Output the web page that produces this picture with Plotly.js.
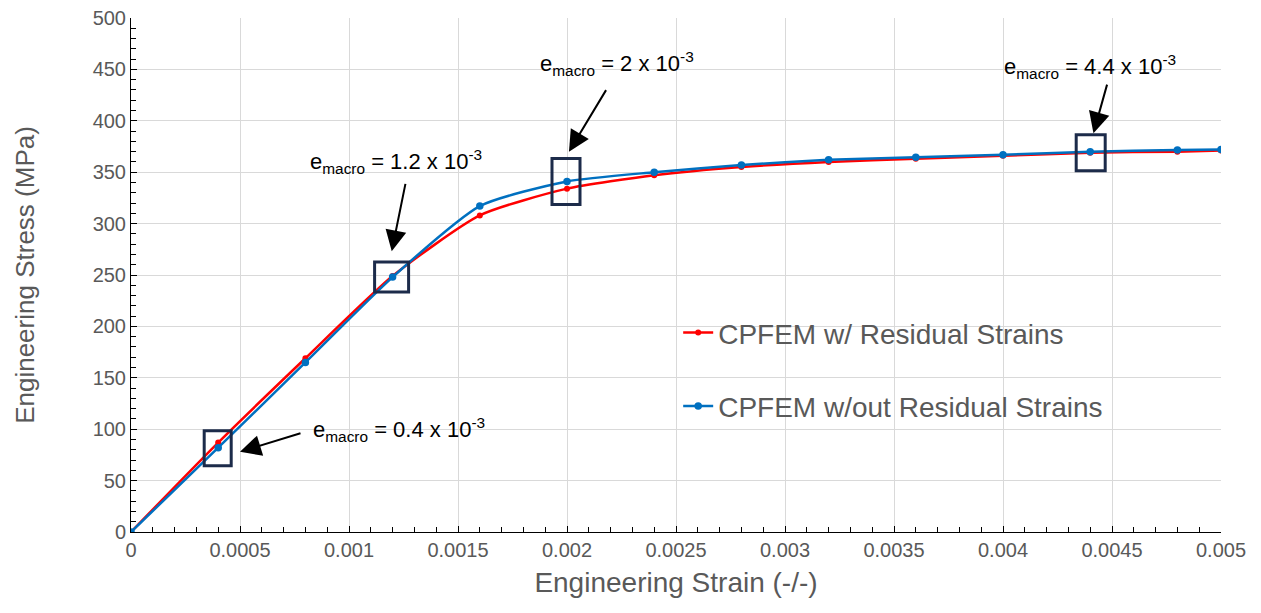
<!DOCTYPE html>
<html>
<head>
<meta charset="utf-8">
<script src="https://cdn.plot.ly/plotly-3.0.1.min.js"></script>
<style>
  html, body { margin: 0; padding: 0; background: #ffffff; }
  #chart { width: 1261px; height: 613px; }
</style>
</head>
<body>
<div id="chart"></div>
<script>
// ---- Data ----
const strain = [0, 0.0004, 0.0008, 0.0012, 0.0016, 0.002, 0.0024, 0.0028, 0.0032, 0.0036, 0.004, 0.0044, 0.0048, 0.005];
const stressWithResidual = [0, 87, 169, 249, 308, 334, 347, 355, 360, 363, 366, 369, 370, 371];
const stressWithoutResidual = [0, 82, 165, 248, 317, 341, 350, 357, 362, 364.5, 367, 370, 371.5, 372];

const seriesNames = ["CPFEM w/ Residual Strains", "CPFEM w/out Residual Strains"];
const xTickVals = [0, 0.0005, 0.001, 0.0015, 0.002, 0.0025, 0.003, 0.0035, 0.004, 0.0045, 0.005];
const xTickText = ["0", "0.0005", "0.001", "0.0015", "0.002", "0.0025", "0.003", "0.0035", "0.004", "0.0045", "0.005"];
const calloutLabels = [
  "e<sub>macro</sub> = 0.4 x 10<sup>-3</sup>",
  "e<sub>macro</sub> = 1.2 x 10<sup>-3</sup>",
  "e<sub>macro</sub> = 2 x 10<sup>-3</sup>",
  "e<sub>macro</sub> = 4.4 x 10<sup>-3</sup>"
];
// indices of highlighted points in the strain array
const calloutIdx = [1, 3, 5, 11];

// ---- Styles ----
const RED = "#ff0000";
const BLUE = "#0070c0";
const BOX = "#1c2b4a";
const GREY_TXT = "#595959";
const FONT = "Liberation Sans, Arial, sans-serif";

const traces = [
  {
    x: strain, y: stressWithResidual, name: seriesNames[0],
    type: "scatter", mode: "lines+markers", legendgroup: "a",
    line: { color: RED, width: 2.5, shape: "spline", smoothing: 0.6 },
    marker: { color: RED, size: 6 }
  },
  {
    x: strain, y: stressWithoutResidual, name: seriesNames[1],
    type: "scatter", mode: "lines+markers", legendgroup: "b",
    line: { color: BLUE, width: 2.5, shape: "spline", smoothing: 0.6 },
    marker: { color: BLUE, size: 7.5 }
  }
];

// Callout boxes (pixel-sized, anchored on data points)
const boxSizes = [
  { l: -14, r: 13, b: -18, t: 17 },
  { l: -18, r: 16, b: -15, t: 15 },
  { l: -15, r: 13, b: -23, t: 23 },
  { l: -14, r: 15, b: -19, t: 17 }
];
const shapes = calloutIdx.map((k, i) => ({
  type: "rect", xref: "x", yref: "y",
  xsizemode: "pixel", ysizemode: "pixel",
  xanchor: strain[k], yanchor: stressWithoutResidual[k],
  x0: boxSizes[i].l, x1: boxSizes[i].r, y0: boxSizes[i].b, y1: boxSizes[i].t,
  line: { color: BOX, width: 3 }, fillcolor: "rgba(0,0,0,0)", layer: "above"
}));

// Arrow heads (data coords) and tails (pixel offsets), text positions
const arrowHeads = [
  { x: 0.0005, y: 78, ax: 62, ay: -19 },
  { x: 0.001196, y: 273, ax: 14, ay: -69 },
  { x: 0.002009, y: 370, ax: 38, ay: -63 },
  { x: 0.004415, y: 388, ax: 14, ay: -50 }
];
const textPos = [
  { x: 0.000825, y: 100 },
  { x: 0.000812, y: 360 },
  { x: 0.001866, y: 456 },
  { x: 0.003995, y: 453 }
];

const annotations = [];
arrowHeads.forEach(a => annotations.push({
  x: a.x, y: a.y, xref: "x", yref: "y", ax: a.ax, ay: a.ay,
  text: "", showarrow: true,
  arrowhead: 2, arrowsize: 2.1, arrowwidth: 2, arrowcolor: "#000000",
  standoff: 0, startstandoff: 0
}));
textPos.forEach((p, i) => annotations.push({
  x: p.x, y: p.y, xref: "x", yref: "y", xanchor: "left", yanchor: "middle",
  text: calloutLabels[i], showarrow: false,
  font: { family: FONT, size: 22, color: "#000000" }
}));

const layout = {
  width: 1261, height: 613,
  margin: { l: 131, r: 40, t: 18, b: 81 },
  paper_bgcolor: "#ffffff", plot_bgcolor: "#ffffff",
  font: { family: FONT, color: GREY_TXT },
  showlegend: true,
  legend: {
    x: 0.502, y: 0.436, xanchor: "left", yanchor: "top",
    bgcolor: "rgba(0,0,0,0)", traceorder: "grouped", tracegroupgap: 34,
    itemwidth: 30,
    font: { family: FONT, size: 28, color: GREY_TXT }
  },
  xaxis: {
    range: [0, 0.005], tickmode: "array", tickvals: xTickVals, ticktext: xTickText,
    showgrid: true, gridcolor: "#d9d9d9", gridwidth: 1, zeroline: false,
    showline: true, linecolor: "#000000", linewidth: 1,
    ticks: "inside", ticklen: 6, tickcolor: "#000000",
    minor: { dtick: 0.0001, tick0: 0, ticks: "inside", ticklen: 5, tickcolor: "#000000", showgrid: false },
    tickfont: { family: FONT, size: 20, color: GREY_TXT },
    title: { text: "Engineering Strain (-/-)", font: { family: FONT, size: 28, color: GREY_TXT }, standoff: 12 }
  },
  yaxis: {
    range: [0, 500], dtick: 50, tick0: 0,
    showgrid: true, gridcolor: "#d9d9d9", gridwidth: 1, zeroline: false,
    showline: true, linecolor: "#000000", linewidth: 1,
    ticks: "inside", ticklen: 6, tickcolor: "#000000",
    minor: { dtick: 10, tick0: 0, ticks: "inside", ticklen: 5, tickcolor: "#000000", showgrid: false },
    tickfont: { family: FONT, size: 20, color: GREY_TXT },
    title: { text: "Engineering Stress (MPa)", font: { family: FONT, size: 26, color: GREY_TXT }, standoff: 50 }
  },
  shapes: shapes,
  annotations: annotations
};

Plotly.newPlot("chart", traces, layout, { displayModeBar: false, responsive: false });
</script>
</body>
</html>
